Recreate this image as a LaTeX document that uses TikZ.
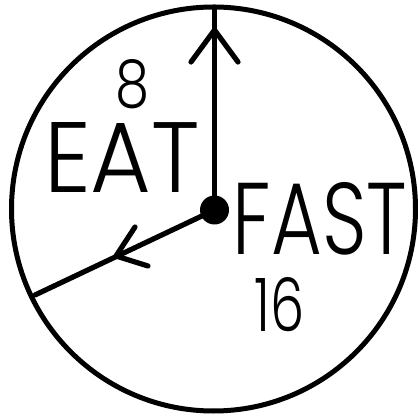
\documentclass[tikz,border=0pt]{standalone}
\usepackage{fontspec}
\IfFontExistsTF{Poppins Light}{\newfontfamily\clockfont{Poppins Light}}{\newfontfamily\clockfont{Poppins}}
\begin{document}
\begin{tikzpicture}[x=1pt,y=-1pt,
  hand/.style={line width=5.2pt,line cap=round,line join=round},
  tick/.style={line width=5.2pt,line cap=round,line join=round},
  lbl/.style={inner sep=0pt,outer sep=0pt,font=\clockfont}]
\useasboundingbox (0,0) rectangle (418,417);
\coordinate (o) at (213.5,209);
\coordinate (c) at (214.5,210);
\draw[line width=5pt] (o) circle[radius=202pt];
\coordinate (top) at (214.5,7);
\coordinate (ll) at (35,295);
\draw[hand] (c) -- (top);
\draw[hand] (c) -- (ll);
\coordinate (a1) at (214.5,30);
\coordinate (a1l) at (191,62);
\coordinate (a1r) at (238,62);
\draw[tick] (a1l) -- (a1) -- (a1r);
\coordinate (a2) at (116,256);
\coordinate (a2u) at (135,227);
\coordinate (a2d) at (148,266);
\draw[tick] (a2u) -- (a2) -- (a2d);
\fill (c) circle[radius=14.5pt];
\node[lbl] (eight) at (133,84) {\resizebox{34pt}{48pt}{8}};
\node[lbl] (eat) at (122,158) {\resizebox{156pt}{70pt}{EAT}};
\node[lbl] (fast) at (320,219) {\resizebox{174pt}{72pt}{FAST}};
\node[lbl] (sixteen) at (280,305) {\resizebox{50pt}{54pt}{16}};
\end{tikzpicture}
\end{document}
